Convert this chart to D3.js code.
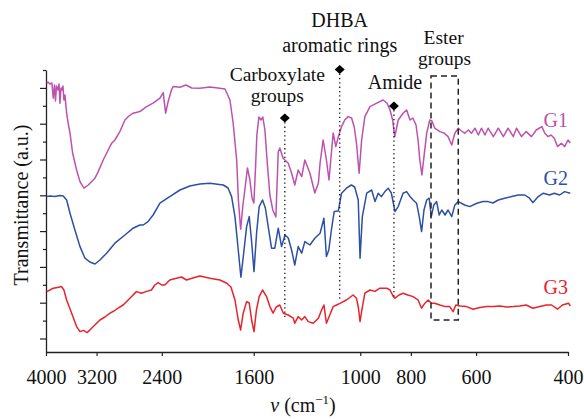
<!DOCTYPE html>
<html>
<head>
<meta charset="utf-8">
<script src="https://cdn.jsdelivr.net/npm/d3@7"></script>
<style>
  body { margin: 0; background: #fff; }
  text { font-family: "Liberation Serif", "DejaVu Serif", serif; }
</style>
</head>
<body>
<svg id="chart" width="584" height="419"></svg>
<script>
// FTIR spectra of the three gels, wavenumber (cm^-1) vs transmittance (a.u., stacked)
const wavenumberTicks = [4000, 3200, 2400, 1600, 1000, 800, 600, 400];
const majorTransTicks = [132.05, 114.15, 96.25, 78.35, 60.45, 42.55, 24.65, 6.75];
const minorTransTicks = [141, 123.1, 105.2, 87.3, 69.4, 51.5, 33.6, 15.7];

const seriesNames = ["G1", "G2", "G3"];
const seriesColors = ["#bd52ad", "#2d50a5", "#e8232b"];

const g1 = [
  [3988,134.4],[3966,135],[3931,134],[3897,134.5],[3874,126.9],[3853,133.5],[3836,125.5],
  [3819,133],[3793,131],[3777,134],[3761,124.4],[3744,132],[3728,131],[3712,133],[3696,126],
  [3679,128.5],[3652,119.4],[3623,113.5],[3598,109.5],[3557,99.5],[3495,91],[3443,85.2],
  [3383,81.9],[3320,83.5],[3223,86.9],[3177,90.2],[3108,96],[3040,101],[2994,104.4],[2952,106],
  [2888,110.2],[2824,116],[2775,118],[2724,119.4],[2644,120.2],[2567,122.7],[2494,124.4],
  [2420,126.9],[2385,129.7],[2360,119.4],[2334,125.2],[2300,131],[2283,132.7],[2215,132.4],
  [2158,133.5],[2103,132],[2029,131.9],[1941,132.5],[1874,132],[1816,131.5],[1777,126],
  [1752,114.5],[1725,96],[1712,76],[1695,61.4],[1678,73.5],[1664,81],[1645,92],[1627,86],
  [1612,77],[1599,74.5],[1588,91],[1578,108.5],[1564,117.5],[1550,116],[1537,117.5],[1523,111],
  [1506,93.5],[1490,78.5],[1471,71],[1451,67.5],[1436,100],[1426,102],[1406,97],[1394,96],
  [1374,94.4],[1354,89.5],[1335,83.5],[1315,91],[1295,87.7],[1277,96],[1249,89.5],[1222,79.5],
  [1203,84.5],[1194,94.5],[1178,106],[1161,96],[1148,86],[1127,109.5],[1114,102.7],[1102,107.5],
  [1086,112.7],[1071,116],[1055,117.7],[1039,117],[1027,112.5],[1017,104.5],[1005,89.4],
  [994,106],[980,117.7],[958,122.7],[930,124.4],[904,126],[889,124.5],[877,121],[867,116],
  [859,107.7],[852,112],[846,116],[828,119.4],[815,121],[803,116],[793,117],[782,113.5],
  [775,106],[769,96],[762,88.5],[755,97.7],[746,109.4],[736,116],[729,115.5],[720,111.9],
  [704,110.2],[691,109.5],[679,107.7],[668,103.5],[659,109.4],[649,111.9],[640,110.5],
  [631,109.4],[621,111],[612,109.4],[603,111.9],[594,108.5],[586,111.9],[577,108.5],[569,111.9],
  [556,107.7],[544,111.9],[532,107.7],[521,111.9],[509,107.7],[502,111.9],[491,107.7],
  [481,110.2],[470,107.7],[460,111],[449,112.7],[443,109.4],[437,107.7],[431,108.5],[425,106.9],
  [419,102.7],[412,104.4],[406,102.7],[400,106],[396,104.5]
];

const g2 = [
  [3988,77.7],[3931,78],[3845,77.8],[3761,78.3],[3707,78],[3652,76],[3598,69.4],[3521,61],
  [3443,52.7],[3368,46.9],[3296,45],[3223,44],[3153,46],[3062,49.4],[2952,54.4],[2824,58.5],
  [2724,61.9],[2644,63.5],[2605,63.5],[2551,65.2],[2494,68.5],[2420,74.4],[2317,77.7],
  [2215,81],[2121,83],[2029,84],[1941,84.4],[1830,83.5],[1792,82],[1764,77.7],[1738,67.7],
  [1713,51],[1693,37.4],[1674,48.5],[1651,62.7],[1632,67.7],[1616,56],[1598,40.2],[1580,59.4],
  [1562,72.7],[1539,76],[1520,72],[1501,62.7],[1479,51.9],[1458,51.9],[1436,61.9],[1415,52.7],
  [1394,58.5],[1374,57],[1354,51],[1335,43.5],[1315,52.7],[1295,49.4],[1277,55.2],[1249,53.5],
  [1222,56.9],[1194,59.4],[1174,66.9],[1161,47.7],[1149,51],[1136,61],[1122,70.2],[1102,70.5],
  [1086,79.4],[1063,81.9],[1040,83.5],[1025,82.5],[1009,76],[1001,46.9],[991,67.7],[972,79.4],
  [951,81],[937,75.2],[924,79.4],[911,77.7],[897,80.2],[884,81.9],[872,79.5],[858,70.2],
  [846,72.7],[828,79.4],[815,80.2],[803,77.7],[792,76],[780,74.4],[771,67.7],[763,60.2],
  [755,71],[746,76],[738,76.9],[731,67.7],[723,73.5],[714,75.2],[706,68.5],[698,71],[688,68.5],
  [679,71],[668,67.7],[659,73.5],[649,75.2],[631,73.5],[617,72.7],[598,74.4],[582,75.2],
  [569,75.2],[557,74.5],[544,76],[529,76.9],[513,77.7],[498,78.5],[484,78.5],[474,76.9],
  [467,74.7],[456,77.7],[446,79.4],[434,78.5],[425,79.4],[415,78.5],[406,80.2],[396,79.4]
];

const g3 = [
  [3988,30.2],[3931,31],[3874,31.9],[3802,32.3],[3734,32.7],[3696,31],[3652,26],[3572,19.4],
  [3495,12.7],[3443,10.2],[3393,10.8],[3335,9.7],[3271,11.9],[3199,14.4],[3153,16],[3084,17.5],
  [3016,19.4],[2964,20.5],[2910,21.9],[2846,23.5],[2763,26.9],[2684,30.2],[2625,29.4],
  [2567,30.3],[2512,31],[2475,33.5],[2439,34.7],[2401,33.5],[2368,33.5],[2317,36],[2249,36.9],
  [2200,37.5],[2152,36],[2093,37],[2029,38],[1941,36.9],[1857,36],[1802,34.4],[1769,32.5],
  [1738,26],[1713,16],[1695,11],[1676,19.4],[1651,25.2],[1632,24.5],[1615,16],[1598,10.2],
  [1581,21],[1562,27.7],[1539,31],[1512,27.7],[1490,22.7],[1469,19.4],[1449,22.5],[1426,23.5],
  [1404,19.4],[1374,18.5],[1344,16.9],[1335,14.4],[1315,17.7],[1295,16],[1277,17.7],[1258,15.2],
  [1231,14.4],[1203,16.9],[1186,21],[1174,23.5],[1161,14.4],[1144,18.5],[1127,22.7],[1110,23.5],
  [1094,24.3],[1063,26],[1032,28.5],[1017,26.9],[1008,22],[1001,15.2],[993,21],[980,29.4],
  [958,31],[937,30.3],[917,31.9],[890,31.9],[877,31],[864,27.7],[858,26.9],[843,28.5],
  [828,29.4],[811,28.5],[792,27.7],[775,26],[763,21.9],[752,24.4],[741,26],[731,24.4],
  [720,24.4],[704,23.5],[688,22.7],[674,22.7],[664,20.2],[656,23.5],[644,23],[626,22.7],
  [608,21.4],[590,22.3],[573,22.7],[556,22.7],[540,23],[525,22.5],[509,22.7],[495,23],
  [481,23.5],[467,21.9],[453,22.7],[440,23.5],[430,23.5],[419,21.4],[410,23.5],[399,24.4],[396,23]
];

// Band assignments: wavenumber, marker level and bottom of guide line (a.u.)
const bandMarkers = [
  { lines: ["Carboxylate", "groups"], nu: 1395, top: 117, bottom: 17 },
  { lines: ["DHBA", "aromatic rings"], nu: 1095, top: 141.3, bottom: 26 },
  { lines: ["Amide"], nu: 862, top: 123, bottom: 27.5 }
];
const esterBand = { lines: ["Ester", "groups"], nuHigh: 732, nuLow: 649, top: 138, bottom: 16 };

const svg = d3.select("#chart");
const x = d3.scaleLog().domain([4000, 400]).range([46, 568]);
const y = d3.scaleLinear().domain([0, 141]).range([352, 70]);

const axisColor = "#222";

// x axis
const xAxis = svg.append("g")
  .attr("transform", "translate(0,352)")
  .call(d3.axisBottom(x).tickValues(wavenumberTicks).tickFormat(d3.format("d"))
    .tickSize(4).tickSizeOuter(0));
xAxis.select(".domain").attr("stroke", axisColor).attr("stroke-width", 1.3);
xAxis.selectAll(".tick line").attr("stroke", axisColor).attr("stroke-width", 1.2);
xAxis.selectAll(".tick text").attr("y", 32).attr("dy", null)
  .attr("fill", "#111").style("font-size", "20px")
  .style("font-family", "'Liberation Serif', serif");

// y axis: long and short ticks, no labels
const yMajor = svg.append("g").attr("transform", "translate(46,0)")
  .call(d3.axisLeft(y).tickValues(majorTransTicks).tickFormat("").tickSize(6).tickSizeOuter(0));
const yMinor = svg.append("g").attr("transform", "translate(46,0)")
  .call(d3.axisLeft(y).tickValues(minorTransTicks).tickFormat("").tickSize(3).tickSizeOuter(0));
yMinor.select(".domain").remove();
yMajor.select(".domain").attr("stroke", axisColor).attr("stroke-width", 1.3);
svg.selectAll(".tick line").attr("stroke", axisColor).attr("stroke-width", 1.2);

// spectra
const line = d3.line().x(d => x(d[0])).y(d => y(d[1]));
[g1, g2, g3].forEach((s, i) => {
  svg.append("path").datum(s)
    .attr("d", line)
    .attr("fill", "none")
    .attr("stroke", seriesColors[i])
    .attr("stroke-width", 1.5)
    .attr("stroke-linejoin", "round");
});

// series labels at the right end
const labelLevels = [g1, g2, g3].map(s => s[s.length - 1][1]);
const labelOffsets = [-16, -8.5, -12];
seriesNames.forEach((n, i) => {
  svg.append("text")
    .attr("x", 568)
    .attr("y", y(labelLevels[i]) + labelOffsets[i])
    .attr("text-anchor", "end")
    .attr("fill", seriesColors[i])
    .style("font-size", "20px")
    .text(n);
});

// band guides: dotted line + diamond marker
const diamond = (cx, cy) => `M${cx},${cy - 4.5}L${cx + 5},${cy}L${cx},${cy + 4.5}L${cx - 5},${cy}Z`;
bandMarkers.forEach(b => {
  const cx = x(b.nu), cy = y(b.top);
  svg.append("line")
    .attr("x1", cx).attr("x2", cx)
    .attr("y1", cy).attr("y2", y(b.bottom))
    .attr("stroke", "#111").attr("stroke-width", 1.3)
    .attr("stroke-dasharray", "1.3,3");
  svg.append("path").attr("d", diamond(cx, cy)).attr("fill", "#000");
});

// band captions
const cb = bandMarkers[0], dh = bandMarkers[1], am = bandMarkers[2];
function caption(txt, cx, by, size) {
  svg.append("text").attr("x", cx).attr("y", by)
    .attr("text-anchor", "middle").attr("fill", "#111")
    .style("font-size", (size || 20) + "px").text(txt);
}
caption(cb.lines[0], x(cb.nu) - 7.5, y(cb.top) - 37.5, 19.5);
caption(cb.lines[1], x(cb.nu) - 7.5, y(cb.top) - 16.5, 19.5);
caption(dh.lines[0], x(dh.nu), y(dh.top) - 42.5);
caption(dh.lines[1], x(dh.nu), y(dh.top) - 17.5);
caption(am.lines[0], x(am.nu) + 1, y(am.top) - 17.5);

// ester region box
const ex0 = x(esterBand.nuHigh), ex1 = x(esterBand.nuLow);
svg.append("rect")
  .attr("x", ex0).attr("y", y(esterBand.top))
  .attr("width", ex1 - ex0).attr("height", y(esterBand.bottom) - y(esterBand.top))
  .attr("fill", "none").attr("stroke", "#222").attr("stroke-width", 1.5)
  .attr("stroke-dasharray", "6,4");
caption(esterBand.lines[0], (ex0 + ex1) / 2 - 1, y(esterBand.top) - 32.5, 19.5);
caption(esterBand.lines[1], (ex0 + ex1) / 2, y(esterBand.top) - 11.5, 19.5);

// axis titles
svg.append("text")
  .attr("transform", "translate(28,205) rotate(-90)")
  .attr("text-anchor", "middle").attr("fill", "#111")
  .style("font-size", "20px")
  .text("Transmittance (a.u.)");

const xt = svg.append("text")
  .attr("x", 303).attr("y", 412)
  .attr("text-anchor", "middle").attr("fill", "#111")
  .style("font-size", "20px");
xt.append("tspan").style("font-style", "italic").text("ν");
xt.append("tspan").text(" (cm");
xt.append("tspan").attr("dy", -8).style("font-size", "13px").text("−1");
xt.append("tspan").attr("dy", 8).text(")");
</script>
</body>
</html>
